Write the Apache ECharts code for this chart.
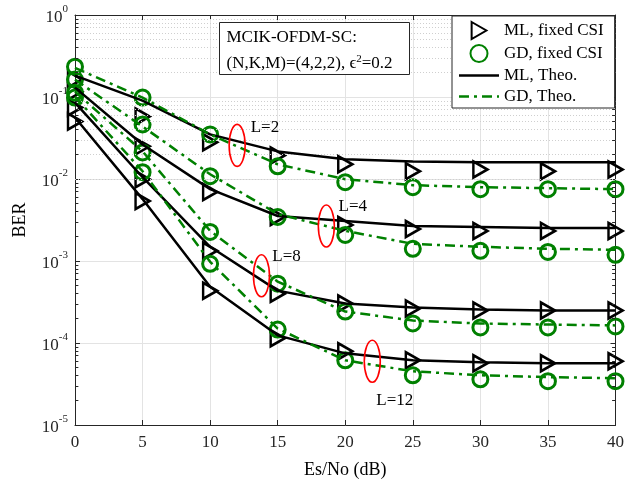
<!DOCTYPE html>
<html>
<head>
<meta charset="utf-8">
<script src="https://cdn.jsdelivr.net/npm/echarts@6/dist/echarts.min.js"></script>
<style>html,body{margin:0;padding:0;background:#fff;}#c{width:627px;height:484px;}</style>
</head>
<body>
<div id="c"></div>
<script>
// ---- data ----
const snr = [0, 5, 10, 15, 20, 25, 30, 35, 40];
const xTicks = [0, 5, 10, 15, 20, 25, 30, 35, 40];
const yTickExps = [0, -1, -2, -3, -4, -5];

// theoretical (lines)
const mlTheoL2  = [0.182, 0.0904, 0.0350, 0.0217, 0.0174, 0.0164, 0.0160, 0.0160, 0.0160];
const gdTheoL2  = [0.227, 0.0984, 0.0350, 0.0151, 0.00995, 0.00841, 0.00795, 0.00773, 0.00752];
const mlTheoL4  = [0.130, 0.0264, 0.00752, 0.00354, 0.00308, 0.00267, 0.00260, 0.00253, 0.00253];
const gdTheoL4  = [0.163, 0.0437, 0.01143, 0.00374, 0.00233, 0.00162, 0.00149, 0.00141, 0.00137];
const mlTheoL8  = [0.0855, 0.01051, 0.00149, 4.35e-4, 3.03e-4, 2.71e-4, 2.56e-4, 2.49e-4, 2.49e-4];
const gdTheoL8  = [0.116, 0.0217, 0.00233, 5.6e-4, 2.42e-4, 1.88e-4, 1.73e-4, 1.68e-4, 1.64e-4];
const mlTheoL12 = [0.0562, 0.00569, 4.86e-4, 1.24e-4, 7.48e-5, 6.15e-5, 5.82e-5, 5.65e-5, 5.65e-5];
const gdTheoL12 = [0.101, 0.01244, 9.77e-4, 1.50e-4, 6.15e-5, 4.52e-5, 4.04e-5, 3.83e-5, 3.72e-5];

// fixed CSI (markers)
const mlFixL2  = [0.163, 0.0578, 0.0280, 0.0194, 0.0151, 0.0124, 0.0131, 0.0124, 0.0131];
const gdFixL2  = [0.234, 0.0984, 0.0350, 0.0143, 0.00914, 0.00795, 0.00752, 0.00752, 0.00752];
const mlFixL4  = [0.116, 0.0250, 0.00692, 0.00344, 0.00275, 0.00246, 0.00233, 0.00233, 0.00233];
const gdFixL4  = [0.163, 0.0462, 0.01081, 0.00344, 0.00208, 0.00141, 0.00133, 0.00129, 0.00119];
const mlFixL8  = [0.0744, 0.00995, 0.00133, 4.0e-4, 3.03e-4, 2.63e-4, 2.49e-4, 2.49e-4, 2.49e-4];
const gdFixL8  = [0.113, 0.0211, 0.00226, 5.29e-4, 2.42e-4, 1.73e-4, 1.55e-4, 1.55e-4, 1.59e-4];
const mlFixL12 = [0.0503, 0.00538, 4.35e-4, 1.14e-4, 7.91e-5, 6.15e-5, 5.65e-5, 5.65e-5, 5.98e-5];
const gdFixL12 = [0.0984, 0.0121, 9.25e-4, 1.46e-4, 6.15e-5, 4.04e-5, 3.61e-5, 3.42e-5, 3.42e-5];

// annotations: ellipse centre [x, BER] and label anchor [x, BER]
const groupLabels = ['L=2', 'L=4', 'L=8', 'L=12'];
const ellipseAt = [[12.0, 0.0257], [18.6, 0.00267], [13.8, 6.6e-4], [22.0, 5.98e-5]];
const labelAt = [[13.0, 0.0425], [19.5, 0.00468], [14.6, 1.125e-3], [22.3, 2.01e-5]];

const legendNames = ['ML, fixed CSI', 'GD, fixed CSI', 'ML, Theo.', 'GD, Theo.'];
const boxLines = ['MCIK-OFDM-SC:', '(N,K,M)=(4,2,2), ϵ{s|2}=0.2'];

// ---- chart ----
const FONT = "'Liberation Serif','Times New Roman',serif";
const GREEN = '#008000';
const TRI = 'path://M0,0L13,7.5L0,15Z';
const LINE_ICON = 'path://M0,0H40V2.6H0Z';
const DASHDOT_ICON = 'path://M0,0H10V2.6H0Z M15,0H18V2.6H15Z M23,0H33V2.6H23Z M38,0H40V2.6H38Z';
const pair = arr => snr.map((x, i) => [x, arr[i]]);

const mlTheo = [mlTheoL2, mlTheoL4, mlTheoL8, mlTheoL12];
const gdTheo = [gdTheoL2, gdTheoL4, gdTheoL8, gdTheoL12];
const mlFix = [mlFixL2, mlFixL4, mlFixL8, mlFixL12];
const gdFix = [gdFixL2, gdFixL4, gdFixL8, gdFixL12];

// minor grid lines & minor ticks (log decades 2..9)
const minorVals = [];
for (let e = -5; e < 0; e++) for (let m = 2; m <= 9; m++) minorVals.push(m * Math.pow(10, e));
const minorTicks = [];
minorVals.forEach(v => {
  minorTicks.push([{ coord: [0, v] }, { coord: [0.25, v] }]);
  minorTicks.push([{ coord: [39.75, v] }, { coord: [40, v] }]);
});

const series = [];
series.push({
  type: 'line', data: [], silent: true, z: 1,
  markLine: {
    silent: true, symbol: 'none', label: { show: false }, animation: false,
    lineStyle: { color: '#cfcfcf', type: [1, 2], width: 1 },
    data: minorVals.map(v => ({ yAxis: v }))
  }
});
series.push({
  type: 'line', data: [], silent: true, z: 2,
  markLine: {
    silent: true, symbol: 'none', label: { show: false }, animation: false,
    lineStyle: { color: '#262626', type: 'solid', width: 1 },
    data: minorTicks
  }
});
for (let k = 0; k < 4; k++) {
  series.push({
    name: legendNames[0], type: 'scatter', data: pair(mlFix[k]),
    symbol: TRI, symbolSize: [14, 16], symbolKeepAspect: false,
    itemStyle: { color: 'rgba(255,255,255,0)', borderColor: '#000', borderWidth: 2.6, opacity: 1 },
    z: 4, silent: true
  });
  series.push({
    name: legendNames[1], type: 'scatter', data: pair(gdFix[k]),
    symbol: 'circle', symbolSize: 15,
    itemStyle: { color: 'rgba(255,255,255,0)', borderColor: GREEN, borderWidth: 3, opacity: 1 },
    z: 4, silent: true
  });
}
for (let k = 0; k < 4; k++) {
  series.push({
    name: legendNames[2], type: 'line', data: pair(mlTheo[k]), symbol: 'none',
    lineStyle: { color: '#000', width: 2.5, type: 'solid', opacity: 1 }, itemStyle: { color: '#000' },
    z: 5, silent: true
  });
  series.push({
    name: legendNames[3], type: 'line', data: pair(gdTheo[k]), symbol: 'none',
    lineStyle: { color: GREEN, width: 2.5, type: [10, 5, 3, 5], opacity: 1 }, itemStyle: { color: GREEN },
    z: 5, silent: true
  });
}

// ellipses and L labels
series.push({
  type: 'custom', silent: true, z: 7,
  data: ellipseAt.map((e, i) => [e[0], e[1], labelAt[i][0], labelAt[i][1], i]),
  renderItem: function (params, api) {
    const c = api.coord([api.value(0), api.value(1)]);
    const t = api.coord([api.value(2), api.value(3)]);
    const i = api.value(4);
    return {
      type: 'group',
      children: [
        { type: 'ellipse', shape: { cx: c[0], cy: c[1], rx: 8, ry: 21 },
          style: { fill: 'none', stroke: '#ff0000', lineWidth: 1.6 } },
        { type: 'text', style: { text: groupLabels[i], x: t[0], y: t[1], fill: '#000',
          font: '17px ' + FONT, align: 'left', verticalAlign: 'middle',
          textAlign: 'left', textVerticalAlign: 'middle' } }
      ]
    };
  }
});

const yRich = {
  b: { fontSize: 17, fontFamily: FONT, color: '#262626', lineHeight: 22, verticalAlign: 'bottom' },
  s: { fontSize: 11, fontFamily: FONT, color: '#262626', lineHeight: 22, verticalAlign: 'top' }
};

const option = {
  animation: false,
  backgroundColor: '#fff',
  grid: { left: 75, top: 15, right: 10, bottom: 57, show: false },
  legend: {
    data: [
      { name: legendNames[0] },
      { name: legendNames[1] },
      { name: legendNames[2], icon: LINE_ICON, itemStyle: { color: '#000', borderWidth: 0 } },
      { name: legendNames[3], icon: DASHDOT_ICON, itemStyle: { color: GREEN, borderWidth: 0 } }
    ],
    orient: 'vertical', left: 452, top: 16,
    padding: [5, 11, 3, 7], itemGap: 4, itemWidth: 40, itemHeight: 17,
    backgroundColor: '#fff', borderColor: '#262626', borderWidth: 1,
    textStyle: { fontSize: 17, fontFamily: FONT, color: '#000' },
    selectedMode: false, z: 10
  },
  xAxis: [{
    type: 'value', min: 0, max: 40, interval: 5,
    name: 'Es/No (dB)', nameLocation: 'middle', nameGap: 36,
    nameTextStyle: { fontSize: 18, fontFamily: FONT, color: '#000' },
    axisLine: { show: true, lineStyle: { color: '#262626', width: 1 } },
    axisTick: { show: true, inside: true, length: 5, lineStyle: { color: '#262626' } },
    axisLabel: { margin: 9, fontSize: 17, fontFamily: FONT, color: '#262626',
      formatter: v => (xTicks.indexOf(v) >= 0 ? String(v) : '') },
    splitLine: { show: true, lineStyle: { color: '#e3e3e3', width: 1 } }
  }, {
    type: 'value', min: 0, max: 40, interval: 5, position: 'top',
    axisLine: { show: true, onZero: false, lineStyle: { color: '#262626', width: 1 } },
    axisTick: { show: true, inside: true, length: 5, lineStyle: { color: '#262626' } },
    axisLabel: { show: false }, splitLine: { show: false }
  }],
  yAxis: [{
    type: 'log', logBase: 10, min: 1e-5, max: 1,
    name: 'BER', nameLocation: 'middle', nameGap: 46,
    nameTextStyle: { fontSize: 18, fontFamily: FONT, color: '#000' },
    axisLine: { show: true, lineStyle: { color: '#262626', width: 1 } },
    axisTick: { show: true, inside: true, length: 5, lineStyle: { color: '#262626' } },
    axisLabel: { margin: 7, rich: yRich,
      formatter: v => '{b|10}{s|' + Math.round(Math.log10(v)) + '}' },
    splitLine: { show: true, lineStyle: { color: '#e3e3e3', width: 1 } }
  }, {
    type: 'log', logBase: 10, min: 1e-5, max: 1, position: 'right',
    axisLine: { show: true, onZero: false, lineStyle: { color: '#262626', width: 1 } },
    axisTick: { show: true, inside: true, length: 5, lineStyle: { color: '#262626' } },
    axisLabel: { show: false }, splitLine: { show: false }
  }],
  graphic: [{
    type: 'group', left: 219, top: 22, z: 100,
    children: [
      { type: 'rect', z: 100, shape: { x: 0, y: 0, width: 190, height: 52 },
        style: { fill: '#fff', stroke: '#262626', lineWidth: 1 } },
      { type: 'text', z: 101, x: 7, y: 15, style: { text: boxLines[0], font: '17px ' + FONT, fill: '#000',
        verticalAlign: 'middle', textVerticalAlign: 'middle' } },
      { type: 'text', z: 101, x: 7, y: 41, style: { text: boxLines[1], font: '17px ' + FONT, fill: '#000',
        verticalAlign: 'middle', textVerticalAlign: 'middle',
        rich: { s: { fontSize: 11, fontFamily: FONT, verticalAlign: 'top', lineHeight: 20 } } } }
    ]
  }],
  series: series
};

const chart = echarts.init(document.getElementById('c'), null, { renderer: 'canvas' });
chart.setOption(option);
</script>
</body>
</html>
